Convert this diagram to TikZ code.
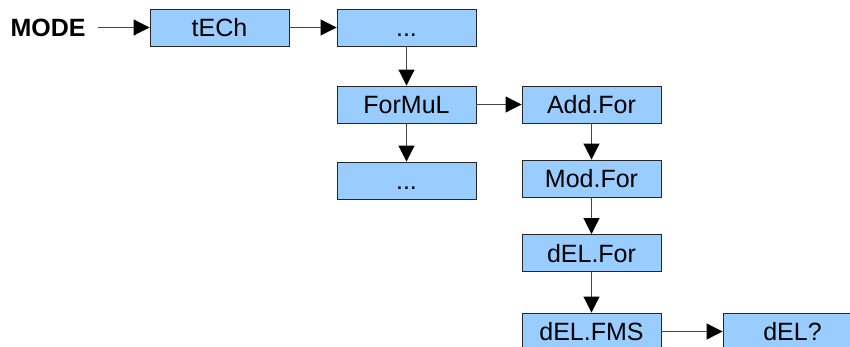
\documentclass[tikz,border=0pt]{standalone}
\usepackage{fontspec}
\setmainfont{Liberation Sans}
\usetikzlibrary{arrows.meta}
\definecolor{boxblue}{HTML}{99CCFF}
\definecolor{linegray}{HTML}{444444}
\begin{document}
\begin{tikzpicture}[x=1pt,y=-1pt,
  box/.style={draw=black!85, line width=0.9pt, fill=boxblue, minimum width=139pt,
    minimum height=37pt, inner sep=0pt, text height=21pt, text depth=3pt,
    font=\fontsize{25}{28}\selectfont},
  conn/.style={draw=linegray, line width=1pt,
    -{Triangle[length=16pt,width=16pt,color=black]}}]
\useasboundingbox (0,0) rectangle (850,347);
\clip (0,0) rectangle (850,347);
\node[font=\fontsize{25}{28}\selectfont\bfseries, inner xsep=12pt, inner ysep=0pt,
  text height=21pt, text depth=3pt] (mode) at (48,27.5) {MODE};
\node[box] (tech) at (219.5,27.5) {tECh};
\node[box] (dots1) at (406.5,27.5) {...};
\node[box] (formul) at (406.5,104.5) {ForMuL};
\node[box] (dots2) at (406.5,180.5) {...};
\node[box] (addfor) at (591.5,104.5) {Add.For};
\node[box] (modfor) at (591.5,178.5) {Mod.For};
\node[box] (delfor) at (591.5,253) {dEL.For};
\node[box] (delfms) at (591.5,331.5) {dEL.FMS};
\node[box] (delq) at (792.5,331.5) {dEL?};
\draw[conn] (mode.east) -- (tech);
\draw[conn] (tech) -- (dots1);
\draw[conn] (dots1) -- (formul);
\draw[conn] (formul) -- (dots2);
\draw[conn] (formul) -- (addfor);
\draw[conn] (addfor) -- (modfor);
\draw[conn] (modfor) -- (delfor);
\draw[conn] (delfor) -- (delfms);
\draw[conn] (delfms) -- (delq);
\end{tikzpicture}
\end{document}
